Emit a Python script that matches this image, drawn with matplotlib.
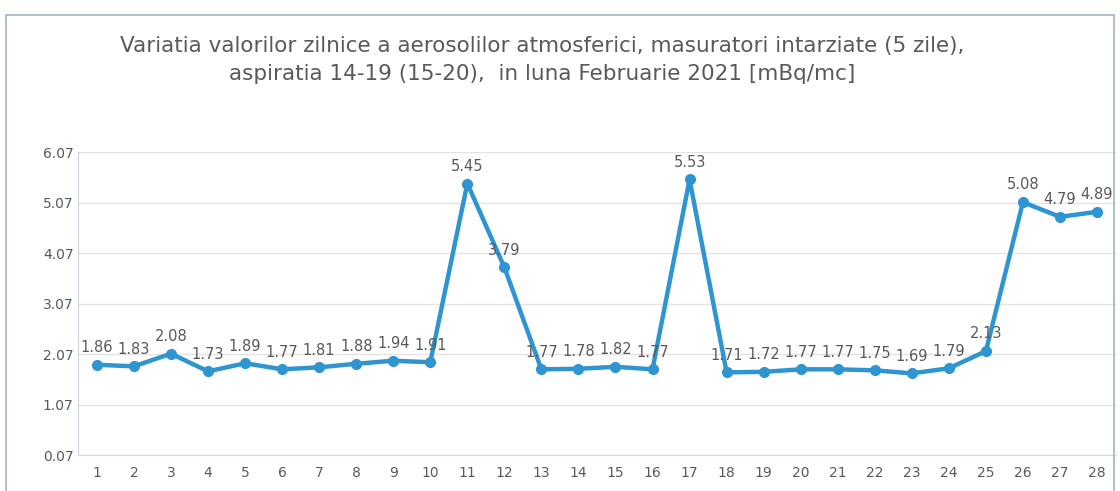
import numpy as np
import matplotlib.pyplot as plt
from matplotlib.patches import Rectangle

days = list(range(1, 29))
values = [1.86, 1.83, 2.08, 1.73, 1.89, 1.77, 1.81, 1.88, 1.94, 1.91,
          5.45, 3.79, 1.77, 1.78, 1.82, 1.77, 5.53, 1.71, 1.72, 1.77,
          1.77, 1.75, 1.69, 1.79, 2.13, 5.08, 4.79, 4.89]
yticks = [0.07, 1.07, 2.07, 3.07, 4.07, 5.07, 6.07]

title = ("Variatia valorilor zilnice a aerosolilor atmosferici, masuratori intarziate (5 zile),\n"
         "aspiratia 14-19 (15-20),  in luna Februarie 2021 [mBq/mc]")

blue = "#2f95d0"
grey = "#595959"

fig = plt.figure(figsize=(11.2, 4.91), dpi=100)
ax = fig.add_axes([0.070, 0.073, 0.926, 0.617])

ax.plot(days, values, color=blue, linewidth=3.2, marker="o", markersize=7,
        markerfacecolor=blue, markeredgecolor=blue, zorder=3)

# value labels above each point
for d, v in zip(days, values):
    ax.annotate(f"{v:.2f}", (d, v), xytext=(0, 7), textcoords="offset points",
                ha="center", va="bottom", fontsize=10.5, color=grey)

ax.set_xlim(0.5, 28.5)
ax.set_ylim(0.07, 6.07)
ax.set_xticks(days)
ax.set_yticks(yticks)
ax.set_yticklabels([f"{t:.2f}" for t in yticks])
ax.tick_params(axis="both", colors=grey, labelsize=10, length=0)
ax.tick_params(axis="x", pad=8)
ax.grid(axis="y", color="#e3e3e3", linewidth=1)
ax.set_axisbelow(True)
for s in ["top", "right"]:
    ax.spines[s].set_visible(False)
ax.spines["left"].set_color("#c8d4e6")
ax.spines["bottom"].set_color("#d9d9d9")

fig.text(0.484, 0.878, title, ha="center", va="center", fontsize=15.5,
         color=grey, linespacing=1.45)

fig.patches.append(Rectangle((0.005, -0.01), 0.99, 0.98, transform=fig.transFigure,
                             fill=False, edgecolor="#9fb3cc", linewidth=1.2))

fig.savefig("out.png", dpi=100)
